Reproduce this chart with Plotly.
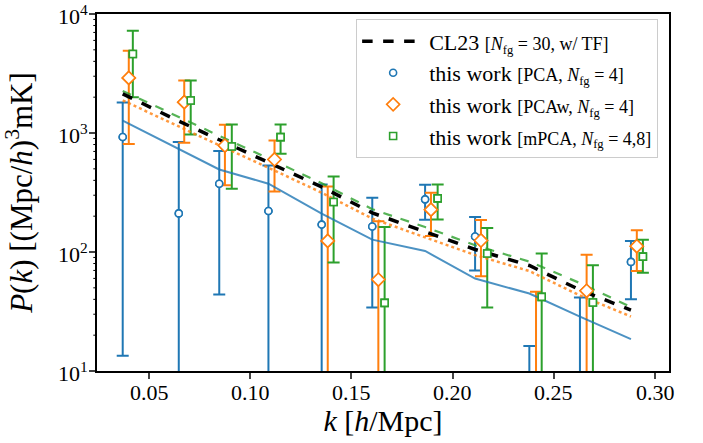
import math
import plotly.graph_objects as go

# ---- data ----
# PCA (blue)
k_pca = [0.037, 0.0647, 0.0847, 0.109, 0.1353, 0.1603, 0.1864, 0.2111, 0.2379, 0.2629, 0.2881]
P_pca = [925, 211, 375, 221, 170, 164, 277, 135, 5, 4, 82.6]
hi_pca = [1803, 839, 705, 534, 370, 286, 368, 197, 16.2, 41.4, 124]
lo_pca = [13.4, 0.5, 44, 0.5, 0.5, 34.2, 187, 70, 0.5, 0.5, 40.1]

# PCAw (orange)
k_pcaw = [0.040, 0.0674, 0.0875, 0.112, 0.1383, 0.1633, 0.1893, 0.214, 0.2412, 0.2662, 0.291]
P_pcaw = [2904, 1817, 785, 599, 124, 58.7, 227, 125, 6, 47.2, 112]
hi_pcaw = [4921, 2756, 1172, 865, 355, 181, 315, 186, 46.3, 95, 152]
lo_pcaw = [807, 827, 363, 323, 0.5, 0.5, 136, 62.5, 0.5, 0.5, 69.4]

# mPCA (green)
k_mpca = [0.042, 0.0706, 0.0909, 0.115, 0.1412, 0.1664, 0.1926, 0.2171, 0.244, 0.2693, 0.294]
P_mpca = [4613, 1874, 770, 924, 263, 37.4, 282, 97, 42, 37.6, 91.5]
hi_mpca = [7244, 2756, 1177, 1177, 431, 162, 370, 159, 97, 77.3, 127]
lo_mpca = [2000, 971, 340, 669, 81.5, 0.5, 188, 34.2, 0.5, 0.5, 66.8]

# model curves
k_model = [0.037, 0.0647, 0.0847, 0.109, 0.1353, 0.1603, 0.1864, 0.2111, 0.2379, 0.2629, 0.2881]
cl23 = [2133, 1259, 877, 570, 352, 213, 147, 105, 77, 48, 32.5]
model_pca = [1273, 737, 494, 375, 210, 127, 102, 59.8, 44.8, 28.6, 18.5]
model_pcaw = [1880, 1127, 788, 511, 315, 191, 133, 94.2, 69.2, 43.1, 28.7]
model_mpca = [2259, 1355, 947, 613, 378, 229, 162, 114, 83, 54.8, 34.5]

y_tickvals = [10, 100, 1000, 10000]
y_ticktext = ["10<sup>1</sup>", "10<sup>2</sup>", "10<sup>3</sup>", "10<sup>4</sup>"]
y_minor_vals = [m * d for d in (10, 100, 1000) for m in range(2, 10)]
x_tickvals = [0.05, 0.10, 0.15, 0.20, 0.25, 0.30]
x_ticktext = ["0.05", "0.10", "0.15", "0.20", "0.25", "0.30"]

BLUE = "#1f77b4"
ORANGE = "#ff7f0e"
GREEN = "#2ca02c"
FONT = "Liberation Serif"

def small(s):
    return '<span style="font-size:18px">' + s + '</span>'

fig = go.Figure()

series = [
    (k_pca, P_pca, hi_pca, lo_pca, BLUE, "circle", 7,
     "this work " + small("[PCA, <i>N</i><sub>fg</sub> = 4]"), 2),
    (k_pcaw, P_pcaw, hi_pcaw, lo_pcaw, ORANGE, "diamond", 10,
     "this work " + small("[PCAw, <i>N</i><sub>fg</sub> = 4]"), 3),
    (k_mpca, P_mpca, hi_mpca, lo_mpca, GREEN, "square", 7,
     "this work " + small("[mPCA, <i>N</i><sub>fg</sub> = 4,8]"), 4),
]

# error bars (below lines)
for k, P, hi, lo, col, sym, sz, name, rank in series:
    fig.add_trace(go.Scatter(
        x=k, y=P, mode="markers",
        marker=dict(symbol=sym, size=sz, color="white",
                    line=dict(color=col, width=1.6)),
        error_y=dict(type="data", symmetric=False,
                     array=[h - p for h, p in zip(hi, P)],
                     arrayminus=[p - l for p, l in zip(P, lo)],
                     color=col, thickness=2, width=6),
        name=name, legendrank=rank, legendgroup=str(rank), showlegend=True,
    ))

# model lines
fig.add_trace(go.Scatter(x=k_model, y=model_pca, mode="lines",
                         line=dict(color="rgba(31,119,180,0.8)", width=2),
                         showlegend=False, hoverinfo="skip"))
fig.add_trace(go.Scatter(x=k_model, y=model_pcaw, mode="lines",
                         line=dict(color="rgba(255,127,14,0.8)", width=2.5, dash="dot"),
                         showlegend=False, hoverinfo="skip"))
fig.add_trace(go.Scatter(x=k_model, y=model_mpca, mode="lines",
                         line=dict(color="rgba(44,160,44,0.8)", width=2.2, dash="dash"),
                         showlegend=False, hoverinfo="skip"))
fig.add_trace(go.Scatter(x=k_model, y=cl23, mode="lines",
                         line=dict(color="black", width=3.5, dash="dash"),
                         name="CL23 " + small("[<i>N</i><sub>fg</sub> = 30, w/ TF]"),
                         legendrank=1, legendgroup="1"))

# markers on top
for k, P, hi, lo, col, sym, sz, name, rank in series:
    fig.add_trace(go.Scatter(
        x=k, y=P, mode="markers",
        marker=dict(symbol=sym, size=sz, color="white",
                    line=dict(color=col, width=1.6)),
        showlegend=False, hoverinfo="skip"))

tickfont = dict(family=FONT, size=22, color="black")

# tick labels as annotations placed on the axes' scales
annotations = []
for v, t in zip(x_tickvals, x_ticktext):
    annotations.append(dict(x=v, xref="x", y=0, yref="paper", text=t, showarrow=False,
                            xanchor="center", yanchor="top", yshift=-7, font=tickfont))
for v, t in zip(y_tickvals, y_ticktext):
    annotations.append(dict(x=0, xref="paper", y=math.log10(v), yref="y", text=t,
                            showarrow=False, xanchor="right", yanchor="middle",
                            xshift=-7, yshift=-1, font=tickfont))

# minor ticks on the log axis
shapes = []
for v in y_minor_vals:
    shapes.append(dict(type="line", xref="x domain", yref="y", x0=0, x1=-0.0065,
                       y0=v, y1=v, line=dict(color="black", width=1), layer="above"))

fig.update_layout(
    width=703, height=443,
    margin=dict(l=97, r=34, t=14, b=72),
    paper_bgcolor="white", plot_bgcolor="white",
    font=dict(family=FONT, size=22, color="black"),
    showlegend=True,
    annotations=annotations,
    shapes=shapes,
    legend=dict(x=0.981, y=0.985, xanchor="right", yanchor="top",
                bgcolor="rgba(255,255,255,0.85)", bordercolor="#cccccc", borderwidth=1,
                font=dict(family=FONT, size=22, color="black"), tracegroupgap=0,
                traceorder="grouped", itemwidth=62),
    xaxis=dict(range=[0.0243, 0.3069], showgrid=False, zeroline=False,
               showline=True, linecolor="black", linewidth=2, mirror=True,
               ticks="outside", ticklen=6, tickwidth=1.5, showticklabels=False,
               tickmode="array", tickvals=x_tickvals,
               title=dict(text="<i>k</i> [<i>h</i>/Mpc]",
                          font=dict(family=FONT, size=30, color="black"), standoff=32)),
    yaxis=dict(type="log", range=[1, 4], showgrid=False, zeroline=False,
               showline=True, linecolor="black", linewidth=2, mirror=True,
               ticks="outside", ticklen=6, tickwidth=1.5, showticklabels=False,
               tickmode="array", tickvals=y_tickvals,
               title=dict(text="<i>P</i>(<i>k</i>) [(Mpc/<i>h</i>)<sup>3</sup>mK]",
                          font=dict(family=FONT, size=31, color="black"), standoff=50)),
)

fig.write_html("out.html")
